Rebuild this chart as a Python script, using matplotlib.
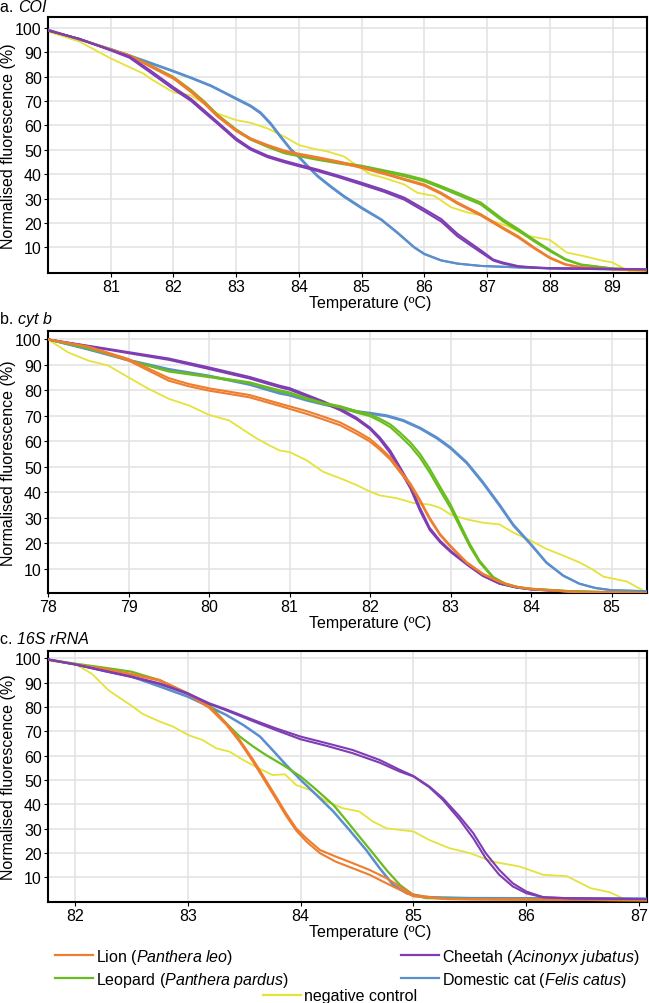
import matplotlib
matplotlib.use('Agg')
import matplotlib.pyplot as plt
from matplotlib.lines import Line2D

plt.rcParams['font.family'] = ['Liberation Sans', 'DejaVu Sans']
plt.rcParams['mathtext.fontset'] = 'custom'
plt.rcParams['mathtext.rm'] = 'Liberation Sans'
plt.rcParams['mathtext.it'] = 'Liberation Sans:italic'
plt.rcParams['font.size'] = 11.5

# colours
col_lion = '#EE7D2E'
col_leopard = '#68BC1E'
col_cheetah = '#7E3DB2'
col_cat = '#5A8ECC'
col_neg = '#E5E23A'

# ---------------- a. COI ----------------
a_lion_t = [80.0, 80.5, 81.0, 81.3, 81.64, 82.0, 82.28, 82.49, 82.7, 83.0, 83.23, 83.5, 83.77, 84.0, 84.3, 84.62, 85.0, 85.36,
            85.68, 86.0, 86.27, 86.53, 86.9, 87.25, 87.5, 87.75, 88.0, 88.25, 88.5, 89.0, 89.55]
a_lion_1 = [99.0, 95.5, 91.2, 88.8, 84.5, 79.7, 74.3, 69.6, 64.2, 58.1, 54.7, 52.0, 49.7, 48.4, 47.0, 45.3, 43.0, 40.5,
            38.1, 35.8, 32.4, 28.4, 23.6, 18.2, 14.5, 10.0, 5.9, 3.1, 1.9, 1.0, 0.6]
a_lion_2 = [99.0, 95.4, 91.0, 88.5, 84.0, 79.2, 73.7, 69.0, 63.7, 57.7, 54.3, 51.6, 49.3, 48.0, 46.6, 44.9, 42.6, 40.1,
            37.7, 35.3, 31.9, 27.9, 23.1, 17.7, 14.0, 9.6, 5.6, 2.9, 1.8, 1.0, 0.6]
a_leo_1 = [99.0, 95.5, 91.2, 88.8, 84.6, 79.9, 74.6, 69.9, 64.5, 58.4, 54.6, 51.6, 49.0, 47.8, 46.3, 45.0, 43.5, 41.6,
           39.9, 37.8, 35.1, 32.4, 28.4, 21.6, 17.5, 13.1, 9.0, 5.2, 3.0, 1.4, 0.8]
a_leo_2 = [99.0, 95.5, 91.1, 88.6, 84.3, 79.5, 74.2, 69.5, 64.1, 58.0, 54.2, 51.2, 48.6, 47.4, 45.9, 44.5, 43.0, 41.0,
           39.2, 37.1, 34.4, 31.6, 27.6, 20.8, 16.8, 12.5, 8.5, 4.9, 2.8, 1.3, 0.8]
a_chee_t = [80.0, 80.5, 81.0, 81.3, 81.64, 82.0, 82.28, 82.49, 82.7, 83.0, 83.23, 83.5, 83.77, 84.0, 84.3, 84.62, 85.0, 85.36,
            85.68, 86.0, 86.27, 86.53, 86.9, 87.1, 87.25, 87.5, 87.75, 88.0, 89.55]
a_chee_1 = [99.0, 95.5, 91.0, 88.3, 82.4, 75.7, 70.9, 66.2, 61.5, 54.7, 50.7, 47.6, 45.5, 43.9, 41.9, 39.5, 36.5, 33.5,
            30.4, 25.7, 21.6, 15.5, 8.8, 5.0, 3.8, 2.3, 1.8, 1.5, 1.0]
a_chee_2 = [99.0, 95.5, 90.8, 87.8, 81.6, 74.9, 70.1, 65.4, 60.8, 54.0, 50.1, 47.0, 44.9, 43.3, 41.3, 38.9, 35.8, 32.8,
            29.6, 24.8, 20.6, 14.5, 8.0, 4.6, 3.4, 2.1, 1.7, 1.4, 1.0]
a_cat_t = [80.0, 80.5, 81.0, 81.52, 82.0, 82.28, 82.6, 82.86, 83.0, 83.23, 83.39, 83.55, 83.71, 83.87, 84.0, 84.14, 84.3,
           84.51, 84.72, 85.0, 85.31, 85.57, 85.84, 86.0, 86.27, 86.53, 86.9, 87.5, 88.0, 89.55]
a_cat_1 = [99.3, 95.3, 91.4, 86.8, 82.4, 79.7, 76.4, 73.0, 71.2, 68.2, 65.4, 61.0, 55.6, 50.4, 47.3, 43.5, 39.4,
           35.1, 31.1, 26.4, 21.6, 16.2, 10.1, 7.4, 4.7, 3.4, 2.4, 1.8, 1.4, 0.8]
a_cat_2 = [99.3, 95.2, 91.2, 86.5, 82.1, 79.4, 76.1, 72.7, 70.8, 67.8, 64.9, 60.5, 55.1, 50.0, 46.9, 43.1, 39.0,
           34.7, 30.7, 26.0, 21.3, 15.9, 9.9, 7.2, 4.6, 3.3, 2.4, 1.8, 1.4, 0.8]
a_neg_t = [80.0, 80.19, 80.51, 81.0, 81.52, 81.64, 82.0, 82.28, 82.49, 82.7, 83.0, 83.23, 83.5, 83.77, 84.0, 84.19, 84.46,
           84.72, 84.94, 85.15, 85.36, 85.68, 85.89, 86.16, 86.43, 86.69, 86.9, 87.0, 87.31, 87.63, 88.0, 88.27, 88.53,
           88.85, 89.0, 89.28, 89.55]
a_neg = [98.5, 97.0, 94.3, 87.5, 81.3, 79.1, 73.6, 72.3, 68.9, 64.9, 62.2, 61.1, 58.8, 55.4, 52.0, 50.7, 49.3,
         47.3, 43.2, 39.9, 38.5, 35.8, 32.4, 31.1, 26.4, 24.3, 23.2, 21.6, 18.9, 14.8, 13.1, 7.9, 6.5,
         4.5, 3.8, 0.0, 0.0]
a_xticks = [81, 82, 83, 84, 85, 86, 87, 88, 89]

# ---------------- b. cyt b ----------------
b_lion_t = [78.0, 78.5, 79.0, 79.5, 79.75, 80.0, 80.5, 80.88, 81.21, 81.42, 81.63, 81.83, 82.0, 82.12, 82.25, 82.37, 82.5,
            82.62, 82.74, 82.87, 83.0, 83.2, 83.4, 83.61, 83.82, 84.0, 84.5, 85.44]
b_lion_1 = [100.0, 97.2, 92.3, 84.8, 82.5, 80.8, 78.2, 74.8, 71.9, 69.7, 67.4, 64.1, 60.9, 57.7, 53.8, 48.7, 43.5,
            37.1, 30.0, 23.6, 19.0, 12.6, 8.1, 4.9, 2.9, 2.1, 1.0, 0.5]
b_lion_2 = [100.0, 97.0, 91.7, 83.8, 81.6, 79.9, 77.3, 73.9, 70.8, 68.6, 66.3, 63.0, 59.9, 56.8, 52.9, 48.0, 42.8,
            36.5, 29.5, 23.2, 18.6, 12.3, 7.9, 4.8, 2.9, 2.1, 1.0, 0.5]
b_chee_t = [78.0, 78.5, 79.0, 79.5, 80.0, 80.5, 80.88, 81.0, 81.21, 81.42, 81.63, 81.83, 82.0, 82.12, 82.25, 82.37, 82.5,
            82.62, 82.74, 82.87, 83.0, 83.2, 83.4, 83.61, 83.82, 84.0, 84.5, 85.44]
b_chee_1 = [100.0, 97.5, 95.0, 92.5, 89.0, 85.3, 81.8, 80.9, 78.3, 75.7, 72.8, 69.3, 65.4, 61.6, 56.4, 50.0, 42.9,
            33.9, 26.1, 21.0, 17.1, 12.0, 7.4, 4.2, 2.7, 1.9, 1.0, 0.5]
b_chee_2 = [100.0, 97.3, 94.6, 92.0, 88.4, 84.7, 81.2, 80.3, 77.7, 75.1, 72.2, 68.7, 64.8, 60.8, 55.4, 48.8, 41.6,
            32.8, 25.3, 20.4, 16.6, 11.7, 7.2, 4.1, 2.6, 1.9, 1.0, 0.5]
b_leo_t = [78.0, 78.5, 79.0, 79.5, 80.0, 80.5, 80.88, 81.0, 81.21, 81.42, 81.63, 81.83, 82.0, 82.12, 82.25, 82.37, 82.5,
           82.62, 82.74, 82.87, 83.0, 83.12, 83.24, 83.36, 83.53, 83.69, 83.86, 84.0, 84.5, 85.44]
b_leo_1 = [100.0, 96.5, 91.9, 87.7, 85.5, 83.2, 80.0, 79.2, 77.0, 75.1, 73.8, 71.9, 70.6, 68.9, 66.7, 63.5, 59.6,
           55.1, 49.3, 42.2, 35.2, 27.4, 19.7, 13.2, 6.8, 4.0, 2.7, 2.2, 1.2, 0.5]
b_leo_2 = [100.0, 96.5, 91.8, 87.4, 85.2, 82.9, 79.6, 78.8, 76.6, 74.7, 73.3, 71.3, 69.9, 68.0, 65.6, 62.2, 58.2,
           53.6, 47.8, 40.7, 33.8, 26.2, 18.7, 12.5, 6.4, 3.8, 2.6, 2.1, 1.2, 0.5]
b_cat_t = [78.0, 78.5, 79.0, 79.5, 80.0, 80.5, 80.88, 81.0, 81.21, 81.42, 81.63, 81.83, 82.0, 82.21, 82.41, 82.62, 82.83,
           83.0, 83.2, 83.4, 83.61, 83.78, 84.0, 84.19, 84.4, 84.6, 84.8, 85.0, 85.44]
b_cat_1 = [100.0, 96.2, 92.0, 88.4, 85.8, 82.5, 79.0, 78.3, 76.4, 74.8, 73.4, 71.9, 71.2, 70.2, 68.4, 65.4, 61.6,
           57.7, 51.9, 44.2, 35.2, 27.4, 19.7, 12.6, 7.4, 4.2, 2.5, 1.6, 1.2]
b_cat_2 = [100.0, 96.0, 91.7, 88.1, 85.5, 82.2, 78.7, 78.0, 76.0, 74.4, 73.0, 71.5, 70.8, 69.8, 68.0, 65.0, 61.1,
           57.2, 51.4, 43.6, 34.6, 26.9, 19.3, 12.3, 7.2, 4.1, 2.4, 1.6, 1.2]
b_neg_t = [78.0, 78.25, 78.5, 78.75, 79.0, 79.25, 79.5, 79.75, 80.0, 80.25, 80.5, 80.6, 80.75, 80.88, 81.0, 81.21, 81.42,
           81.63, 81.83, 82.0, 82.12, 82.33, 82.54, 82.74, 82.87, 83.0, 83.2, 83.4, 83.61, 83.78, 84.0, 84.19, 84.4,
           84.6, 84.75, 84.9, 85.19, 85.42]
b_neg = [100.0, 94.9, 91.7, 89.7, 85.1, 80.6, 76.7, 74.1, 70.4, 68.2, 63.0, 61.0, 58.4, 56.4, 55.8, 52.6, 48.0,
         45.5, 42.9, 40.3, 38.8, 37.7, 35.8, 35.2, 33.9, 31.3, 29.4, 28.1, 27.4, 24.2, 21.0, 17.8, 15.2,
         12.5, 10.0, 6.9, 5.0, 1.0]
b_xticks = [78, 79, 80, 81, 82, 83, 84, 85]

# ---------------- c. 16S rRNA ----------------
c_lion_t = [81.76, 82.0, 82.25, 82.5, 82.75, 83.0, 83.19, 83.34, 83.46, 83.58, 83.69, 83.78, 83.87, 83.96, 84.05, 84.17,
            84.31, 84.46, 84.61, 84.76, 84.88, 85.0, 85.3, 86.0, 87.07]
c_lion_1 = [99.5, 97.5, 95.8, 93.6, 91.1, 85.6, 80.1, 73.3, 66.4, 58.2, 50.0, 43.2, 36.3, 30.1, 26.0, 21.2,
            18.5, 15.8, 13.0, 9.6, 6.2, 2.7, 1.0, 0.8, 0.5]
c_lion_2 = [99.5, 97.5, 95.6, 93.3, 90.8, 85.2, 79.6, 72.7, 65.6, 57.3, 49.0, 42.2, 35.3, 29.2, 24.7, 19.9,
            16.4, 13.7, 11.0, 7.5, 4.8, 2.1, 1.0, 0.8, 0.5]
c_leo_t = [81.76, 82.0, 82.25, 82.5, 82.75, 83.0, 83.19, 83.34, 83.46, 83.58, 83.69, 83.84, 84.0, 84.14, 84.29, 84.4,
           84.52, 84.64, 84.76, 84.88, 85.0, 85.11, 85.5, 86.0, 87.07]
c_leo = [99.5, 97.8, 96.2, 94.5, 91.0, 85.5, 80.8, 73.3, 67.8, 63.7, 60.3, 56.2, 51.4, 45.9, 39.7, 33.6,
         26.7, 19.9, 13.0, 6.8, 2.7, 1.4, 1.0, 0.8, 0.5]
c_chee_t = [81.76, 82.0, 82.25, 82.5, 82.75, 83.0, 83.19, 83.34, 83.49, 83.64, 83.78, 84.0, 84.23, 84.46, 84.7, 84.88,
            85.0, 85.14, 85.26, 85.41, 85.53, 85.64, 85.76, 85.88, 86.0, 86.15, 86.4, 87.07]
c_chee_1 = [99.5, 97.5, 95.0, 92.5, 89.7, 85.6, 81.5, 79.0, 76.3, 73.6, 71.2, 67.8, 65.1, 62.3, 58.2, 54.1,
            51.6, 47.3, 42.5, 34.9, 28.1, 19.9, 13.0, 7.5, 4.1, 1.8, 1.3, 1.0]
c_chee_2 = [99.5, 97.5, 94.8, 92.3, 89.4, 85.3, 81.2, 78.6, 75.8, 73.0, 70.5, 66.7, 64.0, 61.0, 57.1, 53.4,
            51.4, 47.0, 41.8, 33.6, 26.0, 17.8, 11.0, 6.2, 3.4, 1.7, 1.3, 1.0]
c_cat_t = [81.76, 82.0, 82.25, 82.5, 82.75, 83.0, 83.19, 83.34, 83.49, 83.64, 83.75, 83.87, 84.0, 84.14, 84.29, 84.43,
           84.58, 84.7, 84.82, 84.94, 85.11, 85.5, 87.07]
c_cat = [99.5, 97.5, 95.0, 92.5, 88.4, 84.2, 80.1, 76.7, 72.6, 67.8, 62.3, 56.2, 50.0, 43.8, 37.0, 29.5,
         21.2, 13.7, 6.8, 3.4, 1.8, 1.4, 1.2]
c_neg_t = [81.76, 82.0, 82.15, 82.3, 82.5, 82.6, 82.75, 82.87, 83.0, 83.13, 83.25, 83.37, 83.49, 83.61, 83.75, 83.86,
           83.96, 84.08, 84.23, 84.37, 84.52, 84.64, 84.76, 85.0, 85.14, 85.32, 85.5, 85.7, 85.94, 86.15, 86.36,
           86.57, 86.74, 86.92, 87.07]
c_neg = [99.0, 97.7, 93.6, 86.7, 80.5, 77.1, 74.0, 71.9, 68.5, 66.4, 63.0, 61.6, 58.2, 55.2, 52.0, 52.3,
         47.9, 45.9, 41.1, 38.4, 37.0, 32.9, 30.1, 28.8, 25.3, 21.9, 19.9, 16.4, 14.4, 11.0, 10.4,
         5.5, 3.8, 0.0, 0.0]
c_xticks = [82, 83, 84, 85, 86, 87]

yticks = [10, 20, 30, 40, 50, 60, 70, 80, 90, 100]

W, H = 649, 1004
fig = plt.figure(figsize=(W / 100, H / 100), dpi=100)


def make_ax(top, bottom, xlim, ylim, xticks):
    ax = fig.add_axes([48 / W, 1 - bottom / H, 599 / W, (bottom - top) / H])
    ax.set_xlim(*xlim)
    ax.set_ylim(*ylim)
    ax.set_xticks(xticks)
    ax.set_yticks(yticks)
    ax.grid(True, color='#E2E2E2', lw=1.1, zorder=0)
    ax.set_axisbelow(True)
    for s in ax.spines.values():
        s.set_color('black')
        s.set_linewidth(1.5)
    ax.tick_params(direction='out', length=3, width=0.8, labelsize=11.5, pad=1.5)
    ax.set_ylabel('Normalised fluorescence (%)', fontsize=11.5)
    ax.yaxis.set_label_coords(-32 / 599, 0.5)
    ax.set_xlabel('Temperature (ºC)', fontsize=11.5)
    ax.xaxis.set_label_coords(0.538, -22 / (bottom - top))
    return ax


def pair(ax, t, v1, v2, color):
    ax.plot(t, v1, color=color, lw=1.5, zorder=3)
    ax.plot(t, v2, color=color, lw=1.5, zorder=3)


def panel_title(ax, y, letter, gene):
    # letter upright, gene name in italics right after it
    t1 = fig.text(0.0, 1 - y / H, letter, va='center', ha='left', fontsize=11.5)
    ax.annotate(gene, xy=(1, 0.5), xycoords=t1, va='center', ha='left',
                fontsize=11.5, style='italic', annotation_clip=False)


# panel a
ax = make_ax(17.5, 274, (80.0, 89.55), (-0.5, 104.7), a_xticks)
ax.plot(a_neg_t, a_neg, color=col_neg, lw=1.3, zorder=2)
pair(ax, a_cat_t, a_cat_1, a_cat_2, col_cat)
pair(ax, a_lion_t, a_leo_1, a_leo_2, col_leopard)
pair(ax, a_lion_t, a_lion_1, a_lion_2, col_lion)
pair(ax, a_chee_t, a_chee_1, a_chee_2, col_cheetah)
panel_title(ax, 7.5, 'a. ', 'COI')

# panel b
ax = make_ax(332, 594, (78.0, 85.44), (0.5, 103.3), b_xticks)
ax.plot(b_neg_t, b_neg, color=col_neg, lw=1.3, zorder=2)
pair(ax, b_cat_t, b_cat_1, b_cat_2, col_cat)
pair(ax, b_chee_t, b_chee_1, b_chee_2, col_cheetah)
pair(ax, b_leo_t, b_leo_1, b_leo_2, col_leopard)
pair(ax, b_lion_t, b_lion_1, b_lion_2, col_lion)
panel_title(ax, 320, 'b. ', 'cyt b')

# panel c
ax = make_ax(652, 903, (81.76, 87.07), (-0.2, 103.0), c_xticks)
ax.plot(c_neg_t, c_neg, color=col_neg, lw=1.3, zorder=2)
ax.plot(c_cat_t, c_cat, color=col_cat, lw=1.8, zorder=3)
ax.plot(c_leo_t, c_leo, color=col_leopard, lw=1.6, zorder=3)
pair(ax, c_lion_t, c_lion_1, c_lion_2, col_lion)
pair(ax, c_chee_t, c_chee_1, c_chee_2, col_cheetah)
panel_title(ax, 640, 'c. ', '16S rRNA')

# legends
leg_kw = dict(frameon=False, fontsize=11.5, handlelength=2.4, handletextpad=0.15,
              borderpad=0, borderaxespad=0, labelspacing=0.25)
h = lambda c: Line2D([], [], color=c, lw=1.6)
l1 = fig.legend([h(col_lion), h(col_leopard)],
                [r'Lion ($\it{Panthera\ leo}$)', r'Leopard ($\it{Panthera\ pardus}$)'],
                loc='center left', bbox_to_anchor=(55 / W, 1 - 969 / H), **leg_kw)
l2 = fig.legend([h(col_cheetah), h(col_cat)],
                [r'Cheetah ($\it{Acinonyx\ jubatus}$)', r'Domestic cat ($\it{Felis\ catus}$)'],
                loc='center left', bbox_to_anchor=(401 / W, 1 - 969 / H), **leg_kw)
l3 = fig.legend([h(col_neg)], ['negative control'],
                loc='center left', bbox_to_anchor=(263 / W, 1 - 997 / H), **leg_kw)

fig.savefig('out.png', dpi=100)
